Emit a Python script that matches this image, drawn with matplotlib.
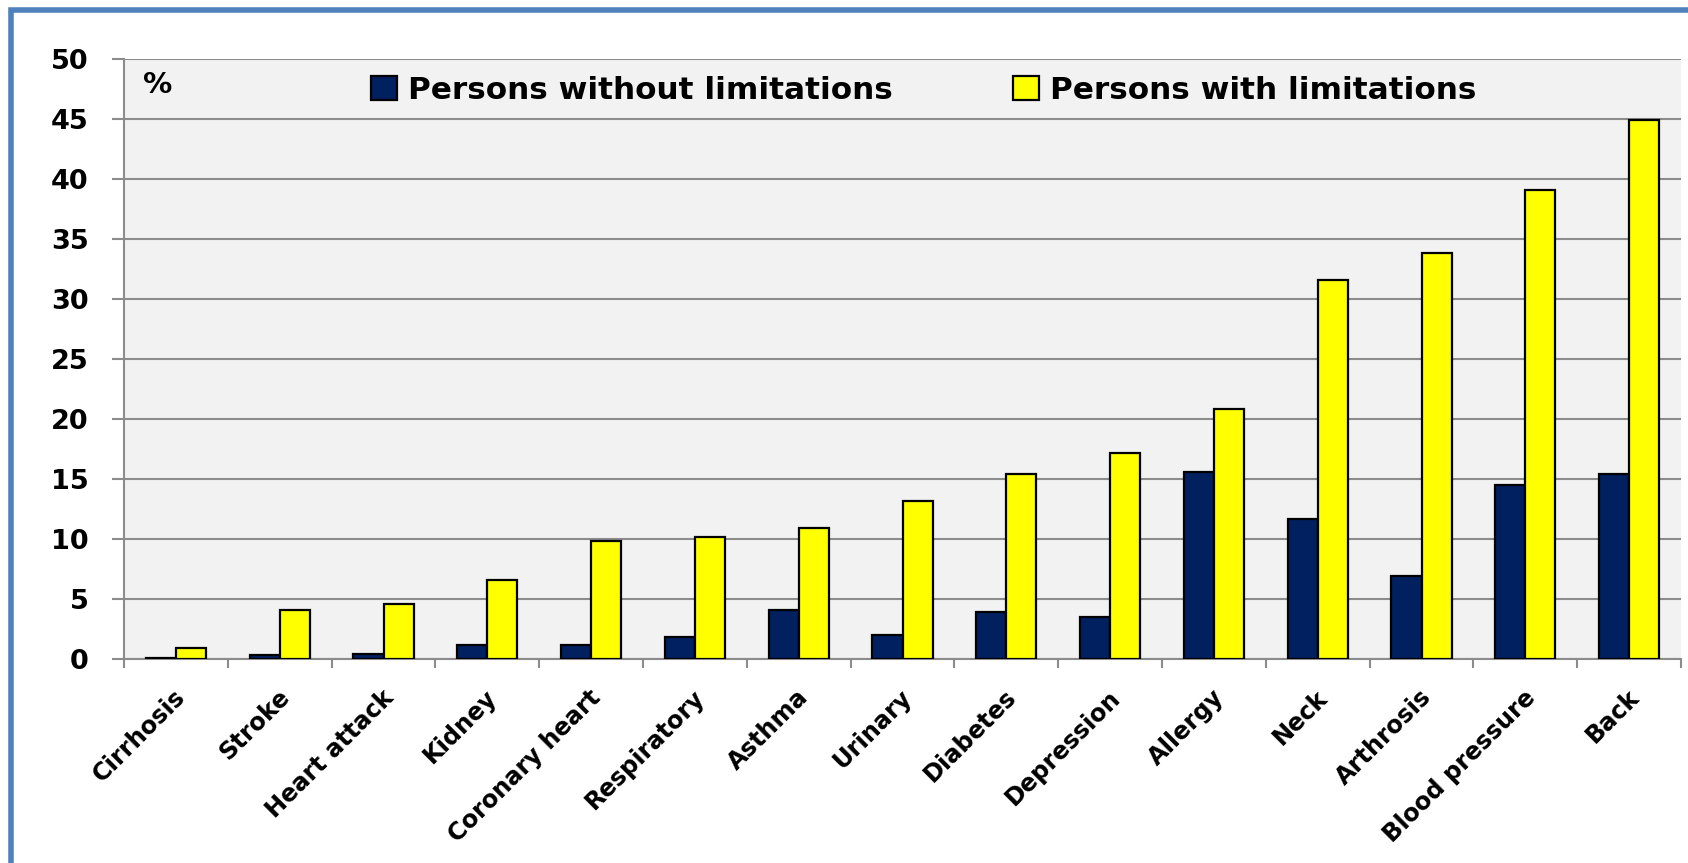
import matplotlib
matplotlib.use("Agg")
import matplotlib.pyplot as plt
import matplotlib.transforms as mtransforms
from matplotlib.patches import Rectangle
import numpy as np

# chronic conditions, share of persons (%)
conditions = ["Cirrhosis", "Stroke", "Heart attack", "Kidney", "Coronary heart",
              "Respiratory", "Asthma", "Urinary", "Diabetes", "Depression",
              "Allergy", "Neck", "Arthrosis", "Blood pressure", "Back"]
without_limits = [0.1, 0.3, 0.4, 1.2, 1.2, 1.8, 4.1, 2.0, 3.9, 3.5,
                  15.6, 11.7, 6.9, 14.5, 15.4]
with_limits = [0.9, 4.1, 4.6, 6.6, 9.8, 10.2, 10.9, 13.2, 15.4, 17.2,
               20.8, 31.6, 33.8, 39.1, 44.9]
series_names = ["Persons without limitations", "Persons with limitations"]
yticks = [0, 5, 10, 15, 20, 25, 30, 35, 40, 45, 50]

plt.rcParams['font.family'] = ['DejaVu Sans']
plt.rcParams['font.weight'] = 'bold'

fig = plt.figure(figsize=(16.88, 8.63), dpi=100)
ax = fig.add_axes([0.0735, 0.2364, 0.9224, 0.6952])

grid_col = '#8c8c8c'
x = np.arange(len(conditions))
w = 0.29
ax.bar(x - w / 2, without_limits, w, color='#002060', edgecolor='black',
       linewidth=1.6, label=series_names[0], zorder=3)
ax.bar(x + w / 2, with_limits, w, color='#ffff00', edgecolor='black',
       linewidth=1.6, label=series_names[1], zorder=3)

ax.set_xlim(-0.5, len(conditions) - 0.5)
ax.set_ylim(0, 50)
ax.set_facecolor('#f2f2f2')
ax.set_yticks(yticks)
ax.yaxis.grid(True, color=grid_col, linewidth=1.5)
ax.set_axisbelow(True)

for side in ['top', 'right']:
    ax.spines[side].set_visible(False)
for side in ['left', 'bottom']:
    ax.spines[side].set_color(grid_col)
    ax.spines[side].set_linewidth(1.5)

ax.tick_params(axis='y', length=8.5, width=1.5, color=grid_col, pad=17,
               labelsize=19.5)
ax.set_xticks(x)
ax.set_xticks(np.arange(-0.5, len(conditions)), minor=True)
ax.tick_params(axis='x', which='major', length=0, pad=25)
ax.tick_params(axis='x', which='minor', length=6.5, width=1.5, color=grid_col)
ax.set_xticklabels(conditions, rotation=45, ha='right', va='center',
                   rotation_mode='anchor', fontsize=17.3, fontweight='bold')
shift = mtransforms.ScaledTranslation(6 / 100, 0, fig.dpi_scale_trans)
for lbl in ax.get_xticklabels():
    lbl.set_transform(lbl.get_transform() + shift)
for lbl in ax.get_yticklabels():
    lbl.set_fontweight('bold')

ax.text(0.0122, 0.957, "%", transform=ax.transAxes, fontsize=21,
        fontweight='bold', va='center', ha='left')

ax.legend(loc='center left', bbox_to_anchor=(0.1586, 0.948), ncol=2,
          frameon=False, prop={'size': 22.4, 'weight': 'bold'},
          handlelength=0.84, handleheight=0.84, handletextpad=0.35,
          columnspacing=3.86, borderaxespad=0, borderpad=0)

# outer frame, cut off at the right and bottom edges
frame = Rectangle((10.5 / 1688, -0.1), 1.2, 1.1 - 10.5 / 863,
                  transform=fig.transFigure, fill=False,
                  edgecolor='#4f81bd', linewidth=4, clip_on=False)
fig.patches.append(frame)

fig.savefig("out.png", dpi=100)
